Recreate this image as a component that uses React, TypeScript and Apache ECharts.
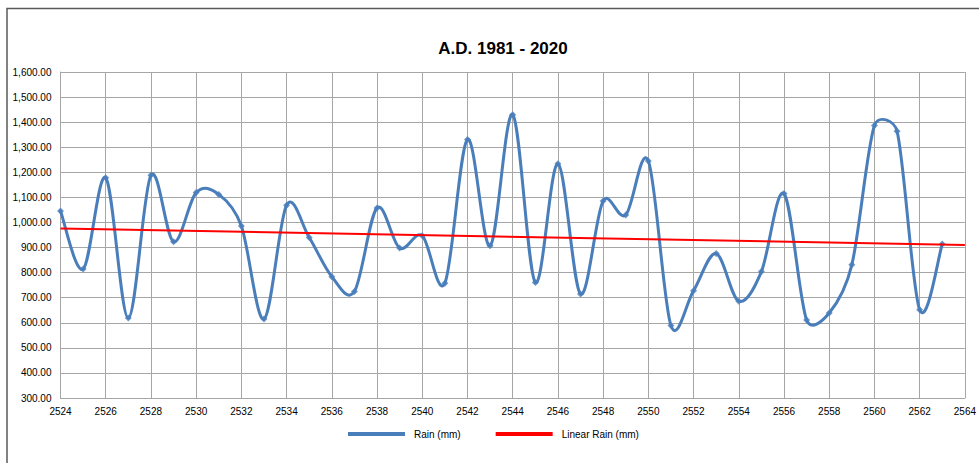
import React, { useEffect, useRef } from "react";
import * as echarts from "echarts";

const years: number[] = [
  2524, 2525, 2526, 2527, 2528, 2529, 2530, 2531, 2532, 2533,
  2534, 2535, 2536, 2537, 2538, 2539, 2540, 2541, 2542, 2543,
  2544, 2545, 2546, 2547, 2548, 2549, 2550, 2551, 2552, 2553,
  2554, 2555, 2556, 2557, 2558, 2559, 2560, 2561, 2562, 2563,
];
const rain: number[] = [
  1046, 814, 1178, 619, 1188, 923, 1119, 1112, 986, 615,
  1069, 940, 784, 725, 1058, 898, 947, 758, 1331, 907,
  1430, 761, 1234, 715, 1086, 1030, 1245, 589, 728, 876,
  686, 804, 1115, 611, 639, 831, 1387, 1364, 652, 914,
];
const trendYears: number[] = [2524, 2564];
const trendValues: number[] = [976, 910];

const titleText = "A.D. 1981 - 2020";
const seriesNames = ["Rain (mm)", "Linear Rain (mm)"];

const BLUE = "#4A7EBB";
const RED = "#FF0000";

export default function App() {
  const ref = useRef<HTMLDivElement>(null);
  useEffect(() => {
    if (!ref.current) return;
    const chart = echarts.init(ref.current, undefined, { renderer: "svg" });
    const font = "'Liberation Sans', Arial, sans-serif";
    const n = years.length;

    // Excel-style smoothing: Bezier control handles of 1/6 of the neighbour chord,
    // limited to half of the segment length (in pixels).
    const renderSegment = (params: any, api: any) => {
      const i = params.dataIndex;
      if (i >= n - 1) return null;
      const P = (k: number) => {
        const kk = Math.max(0, Math.min(n - 1, k));
        return api.coord([years[kk], rain[kk]]) as number[];
      };
      const p0 = P(i - 1);
      const p1 = P(i);
      const p2 = P(i + 1);
      const p3 = P(i + 2);
      const segLen = Math.hypot(p2[0] - p1[0], p2[1] - p1[1]);
      const handle = (a: number[], b: number[]) => {
        let vx = (b[0] - a[0]) / 6;
        let vy = (b[1] - a[1]) / 6;
        const len = Math.hypot(vx, vy);
        const maxLen = segLen / 2;
        if (len > maxLen && len > 0) {
          vx *= maxLen / len;
          vy *= maxLen / len;
        }
        return [vx, vy];
      };
      const h1 = handle(p0, p2);
      const h2 = handle(p1, p3);
      return {
        type: "bezierCurve",
        shape: {
          x1: p1[0],
          y1: p1[1],
          x2: p2[0],
          y2: p2[1],
          cpx1: p1[0] + h1[0],
          cpy1: p1[1] + h1[1],
          cpx2: p2[0] - h2[0],
          cpy2: p2[1] - h2[1],
        },
        style: { stroke: BLUE, lineWidth: 3, fill: "none", lineCap: "round" },
      };
    };

    chart.setOption({
      animation: false,
      backgroundColor: "#ffffff",
      textStyle: { fontFamily: font },
      title: {
        text: titleText,
        left: 498,
        top: 35,
        textAlign: "center",
        textStyle: { fontSize: 17, fontWeight: "bold", color: "#000000", fontFamily: font },
      },
      graphic: [
        {
          type: "rect",
          shape: { x: 7, y: 8.5, width: 1000, height: 500 },
          style: { fill: "none", stroke: "#595959", lineWidth: 1.5 },
          silent: true,
          z: 100,
        },
      ],
      legend: {
        left: 348,
        top: 429,
        padding: 0,
        itemWidth: 57,
        itemHeight: 4,
        itemGap: 35,
        icon: "rect",
        data: seriesNames,
        textStyle: { fontSize: 10, color: "#000000", fontFamily: font, padding: [0, 0, 0, 4] },
      },
      grid: { left: 60.5, top: 72, width: 907, height: 326, containLabel: false },
      xAxis: {
        type: "value",
        min: 2524,
        max: 2564,
        interval: 2,
        axisLine: { show: true, lineStyle: { color: "#A6A6A6", width: 1 } },
        axisTick: { show: false },
        axisLabel: {
          fontSize: 10,
          color: "#000000",
          margin: 8,
          fontFamily: font,
          formatter: (v: number) => String(v),
        },
        splitLine: { show: true, lineStyle: { color: "#A6A6A6", width: 1 } },
      },
      yAxis: {
        type: "value",
        min: 300,
        max: 1600,
        interval: 100,
        axisLine: { show: true, lineStyle: { color: "#A6A6A6", width: 1 } },
        axisTick: { show: false },
        axisLabel: {
          fontSize: 10,
          color: "#000000",
          margin: 9,
          fontFamily: font,
          formatter: (v: number) =>
            v.toLocaleString("en-US", { minimumFractionDigits: 2, maximumFractionDigits: 2 }),
        },
        splitLine: { show: true, lineStyle: { color: "#A6A6A6", width: 1 } },
      },
      series: [
        {
          name: seriesNames[0],
          type: "custom",
          renderItem: renderSegment,
          data: years.map((y, i) => [y, rain[i]]),
          encode: { x: 0, y: 1 },
          color: BLUE,
          itemStyle: { color: BLUE },
          z: 3,
        },
        {
          name: seriesNames[0],
          type: "scatter",
          data: years.map((y, i) => [y, rain[i]]),
          symbol: "diamond",
          symbolSize: 7,
          itemStyle: { color: BLUE },
          z: 4,
        },
        {
          name: seriesNames[1],
          type: "line",
          data: trendYears.map((y, i) => [y, trendValues[i]]),
          symbol: "none",
          color: RED,
          itemStyle: { color: RED },
          lineStyle: { color: RED, width: 2 },
          z: 5,
        },
      ],
    });
    return () => chart.dispose();
  }, []);
  return (
    <div
      ref={ref}
      style={{ position: "fixed", left: 0, top: 0, width: 979, height: 463 }}
    />
  );
}
